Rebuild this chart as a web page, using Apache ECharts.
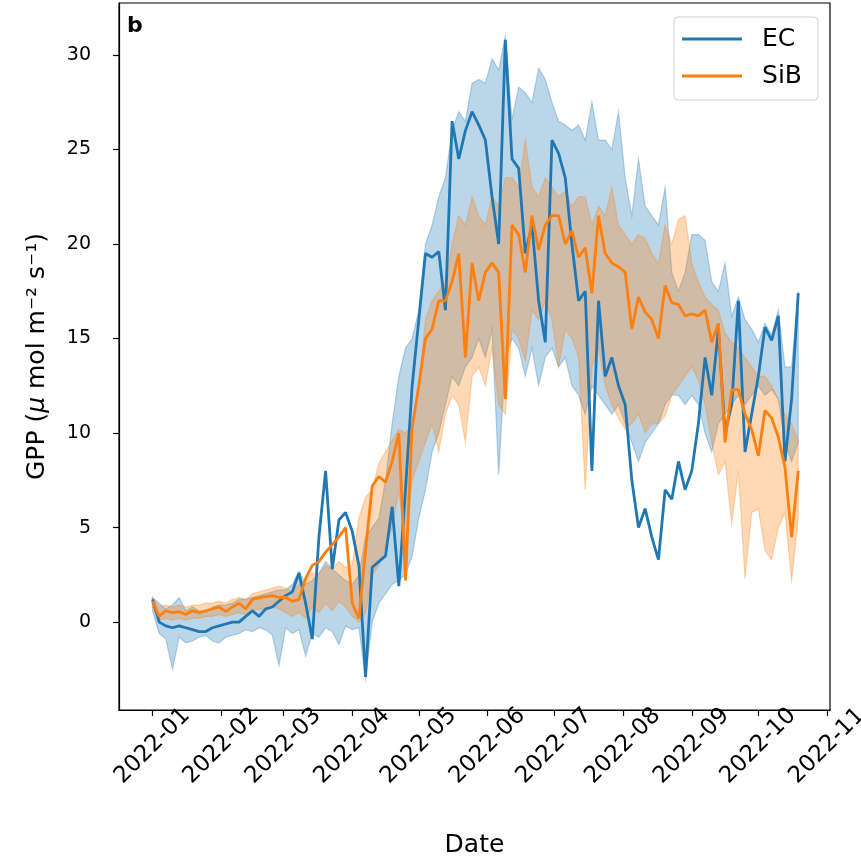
<!DOCTYPE html>
<html>
<head>
<meta charset="utf-8">
<script src="https://cdn.jsdelivr.net/npm/echarts@6/dist/echarts.min.js"></script>
<style>
  html, body { margin: 0; padding: 0; background: #fff; }
  #chart { width: 861px; height: 861px; }
</style>
</head>
<body>
<div id="chart"></div>
<script>
// GPP, one sample every 3 days starting 2022-01-01
var dayStep = 3;

var ecGpp = [
  1.2, 0.0, -0.2, -0.3, -0.2, -0.3, -0.4, -0.5, -0.5, -0.3,
  -0.2, -0.1, 0.0, 0.0, 0.3, 0.6, 0.3, 0.7, 0.8, 1.1,
  1.4, 1.6, 2.6, 1.0, -0.9, 4.5, 8.0, 2.8, 5.4, 5.8,
  4.8, 3.0, -2.9, 2.9, 3.2, 3.5, 6.1, 1.9, 7.0, 12.5,
  16.0, 19.5, 19.3, 19.6, 16.5, 26.5, 24.5, 26.0, 27.0, 26.3,
  25.5, 22.5, 20.0, 30.8, 24.5, 24.0, 19.5, 21.0, 17.0, 14.8,
  25.5, 24.8, 23.5, 20.0, 17.0, 17.5, 8.0, 17.0, 13.0, 14.0,
  12.5, 11.5, 7.5, 5.0, 6.0, 4.5, 3.3, 7.0, 6.5, 8.5,
  7.0, 8.0, 10.5, 14.0, 12.0, 15.5, 10.0, 11.5, 17.0, 9.0,
  11.0, 13.0, 15.6, 14.9, 16.2, 8.5, 11.8, 17.4
];
var ecLow = [
  0.6, -0.6, -0.9, -2.5, -0.8, -1.1, -1.0, -0.8, -0.7, -1.0,
  -1.1, -0.8, -0.7, -0.6, -0.4, -0.5, -0.3, -0.4, -0.7, -2.3,
  -0.3, -0.6, -0.4, -1.8, -0.6, -0.8, -0.3, -0.5, -1.2, -0.2,
  -0.4, -0.3, -3.0, 0.0, 1.0, 1.5, 2.0, 2.2, 2.5, 3.5,
  5.5, 7.0, 9.0, 10.0, 11.5, 13.0, 12.5, 13.5, 14.0, 15.0,
  14.0, 15.5, 7.8, 14.0, 15.0, 14.5, 13.0, 14.5, 12.5, 14.0,
  14.5, 13.5, 14.0, 12.5, 12.0, 11.0, 12.5, 12.0, 11.5, 11.0,
  11.5, 10.5, 9.5, 8.5, 9.5, 10.0, 10.5, 11.5, 12.0, 12.0,
  11.5, 12.0, 11.5, 10.0, 9.0, 10.5, 11.0, 11.5, 12.0, 11.5,
  12.0, 12.5, 12.0, 12.3, 11.8, 9.5, 8.5, 9.5
];
var ecHigh = [
  1.3, 1.0, 0.7, 0.9, 1.3, 0.6, 0.8, 0.6, 0.5, 0.8,
  0.9, 0.9, 1.0, 1.2, 1.2, 1.3, 1.4, 1.5, 1.6, 1.7,
  1.7, 2.0, 2.7, 2.0, 2.2, 2.6, 3.2, 2.8, 2.5, 2.2,
  2.0, 2.5, 4.5, 5.0, 5.5, 7.5, 10.5, 13.0, 14.5, 15.0,
  16.5, 20.0, 21.0, 22.5, 23.5, 26.0, 27.0, 26.5, 28.5, 28.7,
  28.5, 29.8, 29.2, 31.0, 26.6, 28.3, 28.0, 27.5, 29.3, 28.7,
  27.5, 26.5, 26.3, 26.0, 26.3, 25.5, 27.5, 25.5, 25.5, 25.0,
  27.0, 23.5, 21.5, 24.5, 22.0, 21.5, 21.0, 23.0, 18.5, 17.5,
  18.5, 20.5, 20.5, 20.2, 18.0, 17.5, 19.0, 16.2, 17.2, 16.0,
  15.5, 14.8, 15.8, 15.2, 16.5, 13.5, 13.5, 17.5
];
var sibGpp = [
  1.1, 0.3, 0.6, 0.5, 0.55, 0.4, 0.6, 0.5, 0.6, 0.7,
  0.8, 0.55, 0.8, 1.0, 0.7, 1.2, 1.3, 1.35, 1.4, 1.3,
  1.3, 1.1, 1.2, 2.3, 3.0, 3.2, 3.7, 4.1, 4.5, 5.0,
  1.0, 0.2, 3.8, 7.2, 7.7, 7.4, 8.5, 10.0, 2.2, 10.3,
  12.5, 15.0, 15.5, 17.0, 17.0, 18.0, 19.5, 14.0, 19.0, 17.0,
  18.5, 19.0, 18.5, 11.8, 21.0, 20.5, 18.5, 21.5, 19.7, 21.0,
  21.5, 21.5, 20.0, 20.7, 19.3, 19.8, 17.4, 21.5, 19.5, 19.0,
  18.8, 18.5, 15.5, 17.2, 16.4, 16.0, 15.0, 17.8, 16.9, 16.8,
  16.2, 16.3, 16.2, 16.5, 14.8, 15.8, 9.5, 12.3, 12.3, 11.0,
  10.2, 8.8, 11.2, 10.8, 9.8, 8.2, 4.5, 8.0
];
var sibLow = [
  0.8, 0.1, 0.2, 0.1, 0.2, 0.1, 0.2, 0.2, 0.3, 0.3,
  0.4, 0.3, 0.4, 0.5, 0.4, 0.6, 0.7, 0.6, 0.8, 0.7,
  0.5, 0.3, 0.5, 0.2, 0.8, 0.5, 1.0, 0.6, 1.1, 0.8,
  0.3, 0.0, 0.5, 2.5, 3.0, 4.0, 5.0, 7.0, 4.0, 7.5,
  8.5, 9.5, 10.5, 9.0, 11.0, 12.0, 11.5, 9.5, 13.0, 13.5,
  12.5, 14.5, 11.5, 11.0, 15.5, 15.0, 13.8, 16.5, 16.0, 17.0,
  16.0, 13.5, 15.5, 15.0, 14.0, 7.0, 13.5, 14.5, 12.5, 11.5,
  10.8, 10.2, 10.5, 11.0, 10.0, 10.5, 10.5, 10.9, 12.0, 12.5,
  13.0, 13.5, 12.8, 11.5, 9.5, 7.8, 8.5, 5.2, 8.0, 2.3,
  5.8, 6.0, 3.8, 3.3, 5.0, 5.8, 2.2, 5.5
];
var sibHigh = [
  1.3, 0.8, 0.9, 0.8, 0.9, 0.8, 0.9, 0.9, 1.0, 1.0,
  1.1, 1.0, 1.2, 1.3, 1.2, 1.5, 1.6, 1.7, 1.8, 1.9,
  1.8, 1.6, 2.0, 2.2, 2.6, 2.5, 3.0, 2.8, 3.2, 2.9,
  3.0, 5.5, 6.6, 7.0, 8.4, 9.0, 9.6, 10.2, 10.0, 10.5,
  12.5, 16.0, 17.0, 17.5, 18.0, 20.0, 21.5, 21.0, 22.5, 21.5,
  21.0, 22.5, 22.0, 23.5, 23.5, 23.0, 25.5, 23.0, 22.5, 23.5,
  23.0, 22.5, 22.8, 22.0, 22.5, 22.5, 21.0, 22.0, 21.5, 23.0,
  21.0, 20.5, 20.0, 20.5, 20.3, 19.5, 19.0, 21.0, 20.0, 21.3,
  21.5, 19.0, 18.0, 17.2, 16.8, 16.5, 15.3, 14.8, 14.5, 14.0,
  13.5, 13.0, 13.0, 12.5, 11.8, 11.0, 10.5, 9.6
];

// x axis: days since 2022-01-01, ticks on the first of each month
var monthStarts = [0, 31, 59, 90, 120, 151, 181, 212, 243, 273, 304];
var monthLabels = ['2022-01', '2022-02', '2022-03', '2022-04', '2022-05', '2022-06',
                   '2022-07', '2022-08', '2022-09', '2022-10', '2022-11'];
var yTicks = [0, 5, 10, 15, 20, 25, 30];

var days = ecGpp.map(function (v, i) { return i * dayStep; });

function pairs(vals) {
  return vals.map(function (v, i) { return [days[i], v]; });
}

// shaded range between low and high, drawn as one polygon
function bandSeries(name, low, high, fill, z) {
  return {
    type: 'custom',
    name: name,
    silent: true,
    clip: true,
    z: z,
    data: [[days[0], low[0]]],
    renderItem: function (params, api) {
      var pts = [];
      for (var i = 0; i < high.length; i++) pts.push(api.coord([days[i], high[i]]));
      for (var j = low.length - 1; j >= 0; j--) pts.push(api.coord([days[j], low[j]]));
      return {
        type: 'polygon',
        shape: { points: pts },
        style: { fill: fill, stroke: fill, lineWidth: 1.2 }
      };
    }
  };
}

var chart = echarts.init(document.getElementById('chart'));
var font = 'DejaVu Sans';

var option = {
  animation: false,
  backgroundColor: '#fff',
  textStyle: { fontFamily: font },
  grid: {
    left: 119, right: 31, top: 3, bottom: 151,
    outerBoundsMode: 'none',
    show: true, borderColor: '#000', borderWidth: 1.2
  },
  legend: {
    data: ['EC', 'SiB'],
    orient: 'vertical',
    right: 43,
    top: 17,
    icon: 'rect',
    itemWidth: 60,
    itemHeight: 3,
    itemGap: 9,
    padding: [8, 16, 10, 8],
    borderColor: '#d0d0d0',
    borderWidth: 1,
    borderRadius: 4,
    backgroundColor: 'rgba(255,255,255,0.8)',
    textStyle: { fontFamily: font, fontSize: 25, lineHeight: 28, color: '#000', padding: [0, 0, 0, 15] }
  },
  graphic: [{
    type: 'text', left: 127, top: 15,
    style: { text: 'b', fontFamily: font, fontWeight: 'bold', fontSize: 22, fill: '#000' }
  }],
  xAxis: {
    type: 'value',
    min: -15.1,
    max: 305.3,
    name: 'Date',
    nameLocation: 'middle',
    nameGap: 123,
    nameTextStyle: { fontFamily: font, fontSize: 25, color: '#000' },
    splitLine: { show: false },
    axisLine: { onZero: false, lineStyle: { color: '#000', width: 1.2 } },
    axisTick: { customValues: monthStarts, length: 6, lineStyle: { color: '#000', width: 1.2 } },
    axisLabel: {
      customValues: monthStarts,
      rotate: 45,
      margin: 36,
      align: 'center',
      verticalAlign: 'middle',
      fontFamily: font,
      fontSize: 23,
      color: '#000',
      formatter: function (v) { return monthLabels[monthStarts.indexOf(v)]; }
    }
  },
  yAxis: {
    type: 'value',
    min: -4.65,
    max: 32.75,
    name: '{a|GPP (}{i|μ}{a| mol m⁻² s⁻¹)}',
    nameLocation: 'middle',
    nameRotate: 90,
    nameGap: 69,
    nameTextStyle: {
      rich: {
        a: { fontFamily: font, fontSize: 25, color: '#000' },
        i: { fontFamily: font, fontSize: 25, fontStyle: 'italic', color: '#000' }
      }
    },
    splitLine: { show: false },
    axisLine: { onZero: false, lineStyle: { color: '#000', width: 1.2 } },
    axisTick: { customValues: yTicks, length: 6, lineStyle: { color: '#000', width: 1.2 } },
    axisLabel: { customValues: yTicks, margin: 28, fontFamily: font, fontSize: 19, color: '#000' }
  },
  series: [
    bandSeries('EC range', ecLow, ecHigh, 'rgba(31,119,180,0.3)', 1),
    bandSeries('SiB range', sibLow, sibHigh, 'rgba(255,127,14,0.3)', 2),
    {
      name: 'EC', type: 'line', data: pairs(ecGpp), showSymbol: false, z: 3,
      color: '#1f77b4', lineStyle: { color: '#1f77b4', width: 2.8 }
    },
    {
      name: 'SiB', type: 'line', data: pairs(sibGpp), showSymbol: false, z: 4,
      color: '#ff7f0e', lineStyle: { color: '#ff7f0e', width: 2.8 }
    }
  ]
};

chart.setOption(option);
</script>
</body>
</html>
